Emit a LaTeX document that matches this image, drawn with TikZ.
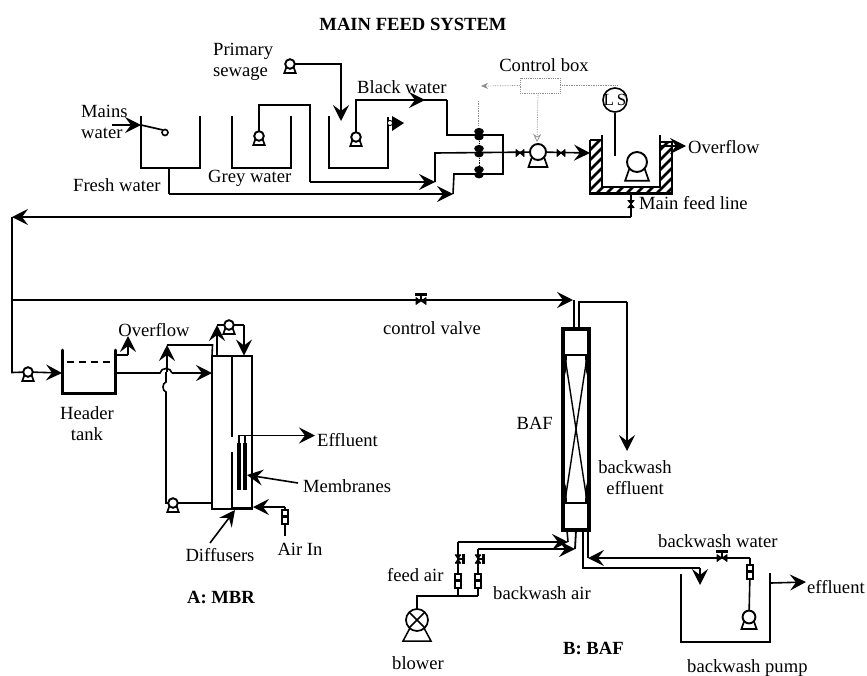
\documentclass[tikz,border=0pt]{standalone}
\usepackage{fontspec}
\setmainfont{Liberation Serif}
\usetikzlibrary{arrows.meta}
\tikzset{
  pipe/.style={line width=1.6pt,line join=miter},
  flow/.style={pipe,-{Stealth[length=16pt,width=16pt,inset=6pt]}},
  wall/.style={line width=1.8pt},
  heavy/.style={line width=3pt},
  signal/.style={line width=0.7pt,densely dotted,black!45},
  lbl/.style={inner sep=0pt,font=\fontsize{18.6}{21}\selectfont,align=center},
  ttl/.style={inner sep=0pt,font=\fontsize{18.6}{21}\selectfont\bfseries},
  pics/pumpsym/.style={code={
    \draw[line width=1.7pt,fill=white] (-6,5) -- (-9.5,15) -- (9.5,15) -- (6,5) -- cycle;
    \draw[line width=1.9pt,fill=white] (0,0) circle (8);
  }},
  pics/blowersym/.style={code={
    \draw[line width=1.5pt] (-7,8) -- (-14,21) -- (14,21) -- (7,8);
    \draw[line width=1.7pt,fill=white] (0,0) circle (11);
    \draw[line width=1.5pt] (-7.8,-7.8) -- (7.8,7.8) (-7.8,7.8) -- (7.8,-7.8);
  }},
  pics/bowtie/.style={code={
    \filldraw[line width=.8pt,line join=round] (-4,-3.5) -- (4,3.5) -- (4,-3.5) -- (-4,3.5) -- cycle;
  }},
  pics/handvalve/.style={code={
    \filldraw[line width=.6pt,line join=round] (-5,-3.5) -- (5,3.5) -- (5,-3.5) -- (-5,3.5) -- cycle;
    \draw[line width=1.4pt] (0,0) -- (0,-7);
    \draw[line width=3pt] (-6,-7) -- (6,-7);
  }},
  pics/rotameter/.style={code={
    \draw[line width=1.8pt,fill=white] (-2.8,-7) rectangle (2.8,7);
    \fill (-2.8,-2) rectangle (2.8,1);
  }},
  pics/actuated/.style={code={
    \fill (0,-2.5) ellipse (4.8 and 3.6);
    \fill (0,3) ellipse (4.6 and 3.4);
    \draw[line width=1pt] (-2,0) -- (2,0);
  }}
}
\begin{document}
\begin{tikzpicture}[x=1pt,y=-1pt]
\useasboundingbox (0,0) rectangle (867,675);

% ---------- named points of the main feed section
\coordinate (freshOut) at (169,168);
\coordinate (greyPump) at (259,136);
\coordinate (blackPump) at (356,137);
\coordinate (sewagePump) at (290,64);
\coordinate (fbJoin) at (453,194);
\coordinate (gJoin) at (435,182);
\coordinate (manifold) at (503,153);
\coordinate (feedPump) at (538,152);
\coordinate (tankIn) at (590,153);
\coordinate (tankOut) at (631,193);
\coordinate (mainEnd) at (12,217);
\coordinate (trunk) at (12,300);
\coordinate (headPump) at (28,372);
\coordinate (headIn) at (62,373);
\coordinate (headOut) at (116,373);
\coordinate (mbrIn) at (212,373);

% ---------- tanks of the feed section
\draw[wall] (141,116) |- (200,168) -- (200,116);
\draw[wall] (232,116) |- (291,168) -- (291,116);
\draw[wall] (329,116) |- (388,168) -- (388,117);

\node[ttl] (title) at (413,24) {MAIN FEED SYSTEM};
\node[lbl,anchor=west,align=left] (primary) at (213,62) {Primary\\sewage};
\node[lbl,anchor=west,align=left] (mains) at (81,121.5) {Mains\\water};
\node[lbl,anchor=west] (fresh) at (73,185) {Fresh water};
\node[lbl,anchor=west] (grey) at (208,178) {Grey water};
\node[lbl,anchor=west] (black) at (357,87) {Black water};
\node[lbl] (ctrlText) at (544,65) {Control box};
\node[lbl,anchor=west] (ovf1) at (688,147) {Overflow};
\node[lbl,anchor=west] (mainLine) at (639,203) {Main feed line};

% mains inlet and float
\coordinate (mainsEnd) at (141,125);
\coordinate (mainsStart) at (112,125);
\draw[flow] (mainsStart) -- (mainsEnd);
\draw[line width=1.7pt] (mainsEnd) -- (163,130);
\draw[line width=1.6pt,fill=white] (165,132.5) circle (3);

% pipes into the manifold
\draw[flow] (sewagePump) -- (341,64) -- (341,121);
\draw[pipe] (greyPump) -- (259,105) -- (310,105) -- (310,182);
\draw[flow] (310,182) -- (gJoin);
\draw[pipe] (freshOut) -- (169,194);
\draw[flow] (169,194) -- (fbJoin);
\draw[pipe] (fbJoin) -- (454,174) -- (503,174) -- (503,135) -- (447,135) -- (447,100);
\draw[pipe] (gJoin) -- (435,153) -- (feedPump);
\draw[pipe] (blackPump) -- (356,100) -- (447,100);
\draw[flow] (356,100) -- (425,100);
\draw[flow] (feedPump) -- (tankIn);

% manifold valves and signals
\draw[signal] (478,101) -- (478,125);
\draw[signal,line width=1pt,black] (479,136) -- (479,172);
\pic at (479,134) {actuated};
\pic at (479,151) {actuated};
\pic at (479,172) {actuated};

% pumps
\pic at (sewagePump) [scale=.6] {pumpsym};
\pic at (greyPump) [scale=.6] {pumpsym};
\pic at (blackPump) [scale=.6] {pumpsym};
\pic at (feedPump) {pumpsym};
\pic at (520,153) {bowtie};
\pic at (561,153) {bowtie};

% float flag in the black tank
\fill (392,116) -- (404,123) -- (392,131) -- cycle;
\draw[line width=.9pt,fill=white] (390,123) circle (2.6);

% control box
\node[draw=black!45,densely dotted,line width=.8pt,minimum width=40pt,minimum height=15pt,inner sep=0pt] (ctrlBox) at (540,85.5) {};
\coordinate (ctrlTip) at (481,86);
\draw[signal,-{Stealth[length=7pt,width=6pt]}] (ctrlBox.west) -- (ctrlTip);
\draw[signal] (ctrlBox.east) -- (617,85.5);
\draw[signal,-{Stealth[length=8pt,width=8pt,open]}] (ctrlBox.south -| feedPump) -- (537,142);

% hatched tank
\begin{scope}
  \clip (590,140) -- (602,140) -- (602,187) -- (660,187) -- (660,142) -- (672,142) -- (672,194) -- (590,194) -- cycle;
  \foreach \k in {0,10,...,150} {\draw[line width=2.6pt] (530+\k,200) -- (592+\k,138);}
\end{scope}
\draw[wall] (602,135) -- (602,187) -- (660,187) -- (660,135);
\draw[wall] (590,140) -- (602,140);
\draw[line width=2.2pt] (590,140) -- (590,193.5) -- (672,193.5) -- (672,142) -- (660,142);
\draw[flow] (660,146) -- (686,146);
\pic at (637,162) [scale=1.25] {pumpsym};
\node[draw,circle,line width=1.6pt,minimum size=24pt,inner sep=0pt,font=\fontsize{17}{17}\selectfont] (ls) at (615,100) {\makebox[0pt]{L\,S}};
\draw[pipe] (ls.south) -- (615,156);

% main feed line and trunk
\draw[pipe] (tankOut) -- (631,217);
\draw[flow] (631,217) -- (mainEnd);
\pic at (631,204) [rotate=90,scale=.9] {bowtie};
\draw[pipe] (mainEnd) -- (trunk) -- (12,372.5) -- (headPump);
\draw[flow] (headPump) -- (headIn);
\pic at (headPump) [scale=.6] {pumpsym};

% header tank
\draw[heavy,line cap=round] (62,350) -- (62,393) -- (115,393) -- (115,350);
\draw[line width=1.4pt,dashed,dash pattern=on 7pt off 5pt] (67,362) -- (113,362);
\node[lbl] (header) at (87,424) {Header\\tank};
\node[lbl] (ovf2) at (154,330) {Overflow};
\coordinate (ovfTip) at (128,336);
\draw[pipe] (116,355) -- (128,355);
\draw[flow] (128,355) -- (ovfTip);
\draw[pipe] (headOut) -- (160,373) .. controls (161,367) and (171,367) .. (172,373);
\draw[flow] (172,373) -- (mbrIn);

% MBR
\coordinate (mbrTL) at (212,356);
\coordinate (mbrBR) at (252,509);
\draw[wall] (mbrTL) rectangle (mbrBR);
\draw[wall] (232,356) -- (232,437) (232,452) -- (232,509);
\draw[heavy] (232,508.5) -- (252,508.5);
% recirculation
\coordinate (recPump) at (173,503);
\draw[pipe] (212,503) -- (recPump) -- (166,503) -- (166,392) .. controls (162,391) and (162,383) .. (166,382) -- (166,372);
\draw[flow] (167,372) -- (167,345);
\draw[pipe] (167,345) -- (212.5,345) -- (mbrTL);
\pic at (recPump) [scale=.6] {pumpsym};
% top loop
\coordinate (topPump) at (229,325);
\draw[flow] (217,356) -- (217,325);
\draw[pipe] (217,325) -- (244,325);
\draw[flow] (244,325) -- (244,355.5);
\pic at (topPump) [scale=.6] {pumpsym};
% membranes and effluent
\draw[line width=4pt] (239,443) -- (239,490);
\draw[line width=4pt] (245,443) -- (245,490);
\draw[flow] (239,443) -- (239,435.5) -- (315,435.5);
\draw[pipe] (245,443) -- (245,436);
\node[lbl,anchor=west] (effl1) at (317,440) {Effluent};
\node[lbl,anchor=west] (membr) at (303,486) {Membranes};
\draw[flow] (membr.west) ++(-5,-3) -- (247,475);
\node[lbl] (diff) at (220,555) {Diffusers};
\coordinate (diffTip) at (235,510);
\draw[flow] (210,543) -- (diffTip);
\node[lbl] (airIn) at (300,549) {Air In};
\coordinate (airRot) at (285,517);
\draw[flow] (285,507) -- (253,507);
\draw[pipe] (285,507) -- (airRot) -- (285,536);
\pic at (airRot) {rotameter};
\node[ttl] (mbrT) at (221,597) {A: MBR};

% ---------- trunk to BAF
\draw[flow] (trunk) -- (573,300);
\pic at (421,301) {handvalve};
\node[lbl] (valveT) at (432,328) {control valve};
\coordinate (bafInA) at (574,328);
\coordinate (bafInB) at (579,328);
\draw[pipe] (574,300) -- (bafInA);
\draw[pipe] (bafInB) -- (579,302) -- (627,302);
\draw[flow] (627,302) -- (627,451);
\node[lbl] (bweffl) at (635,478) {backwash\\effluent};
\node[lbl,anchor=east] (bafT) at (553,423) {BAF};

% BAF column
\draw[line width=3.2pt] (563,329) rectangle (589,530);
\draw[line width=1.3pt] (563,355) -- (589,355);
\draw[line width=1.3pt] (563,503) -- (589,503);
\draw[line width=1.4pt] (565,357) -- (587,501) (587,357) -- (565,501);
\fill (561,355) -- (567,355) -- (566,375) -- cycle;
\fill (591,355) -- (585,355) -- (586,375) -- cycle;
\fill (561,503) -- (567,503) -- (566,483) -- cycle;
\fill (591,503) -- (585,503) -- (586,483) -- cycle;

% air lines
\coordinate (blower) at (417,620);
\coordinate (airSplit) at (458,596);
\coordinate (bwSplit) at (478,596);
\coordinate (rotA) at (458,581);
\coordinate (rotB) at (478,581);
\coordinate (baf1) at (568,542);
\coordinate (baf2) at (575,549);
\draw[pipe] (blower) -- (417,596) -- (bwSplit);
\draw[pipe] (airSplit) -- (rotA) -- (458,542);
\draw[flow] (458,542) -- (baf1);
\draw[pipe] (bwSplit) -- (rotB) -- (478,549);
\draw[flow] (478,549) -- (baf2);
\draw[pipe] (567,530) -- (baf1);
\draw[line width=1.8pt] (576,530) -- (baf2);
\pic at (rotA) {rotameter};
\pic at (rotB) {rotameter};
\pic at (458,559) [rotate=-90,scale=.85] {handvalve};
\pic at (478,559) [rotate=-90,scale=.85] {handvalve};
\pic at (blower) {blowersym};

% backwash
\coordinate (bwPump) at (749,617);
\coordinate (bwRot) at (750,572);
\coordinate (bwTop) at (750,558);
\draw[pipe] (583,530) -- (583,568) -- (700,568);
\draw[flow] (700,568) -- (700,585);
\draw[pipe] (588,530) -- (588,558);
\draw[flow] (bwTop) -- (588,558);
\draw[pipe] (bwPump) -- (bwRot) -- (bwTop);
\pic at (bwRot) {rotameter};
\pic at (722,558) {handvalve};
\pic at (bwPump) [scale=.8] {pumpsym};
\draw[wall] (681,574) -- (681,642) -- (770,642) -- (770,573);
\draw[flow] (771,583) -- (806,582);

\node[lbl,anchor=west] (feedA) at (387,575) {feed air};
\node[lbl,anchor=west] (bwAir) at (493,593) {backwash air};
\node[lbl,anchor=west] (bwWater) at (658,541) {backwash water};
\node[lbl,anchor=west] (effl2) at (807,587) {effluent};
\node[lbl,anchor=west] (blowT) at (392,663) {blower};
\node[ttl,anchor=west] (bafB) at (563,648) {B: BAF};
\node[lbl,anchor=west] (bwPumpT) at (687,668) {backwash pump};
\end{tikzpicture}
\end{document}
